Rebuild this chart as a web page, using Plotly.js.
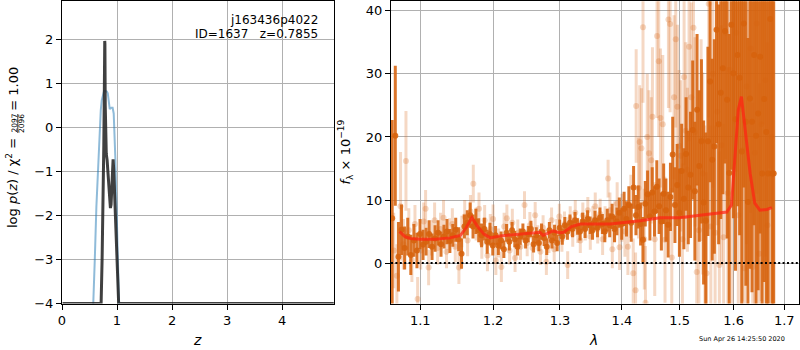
<!DOCTYPE html>
<html><head><meta charset="utf-8">
<script src="https://cdn.plot.ly/plotly-3.0.1.min.js"></script>
<style>html,body{margin:0;padding:0;background:#fff}#chart{width:800px;height:350px}</style>
</head><body><div id="chart"></div>
<script>
// ---------- left panel: log p(z) ----------
const zBlue = [0.560,0.566,0.596,0.625,0.650,0.670,0.687,0.705,0.723,0.745,0.765,0.790,0.815,0.832,0.850,0.868,0.895,0.920,0.940,0.955,0.970,0.985,1.001,1.020,1.038,1.045];
const logpBlue = [-4.3,-4.0,-3.0,-1.8,-1.0,-0.3,0.05,0.4,0.62,0.78,0.83,0.83,0.82,0.78,0.5,0.42,0.45,0.45,0.32,-0.1,-0.7,-1.5,-2.4,-3.2,-4.0,-4.4];
const zDark = [0.01,0.705,0.711,0.729,0.745,0.760,0.770,0.777,0.780,0.786,0.792,0.805,0.820,0.835,0.850,0.868,0.880,0.892,0.905,0.918,0.929,0.940,0.959,0.980,1.001,1.025,1.030,4.94];
const logpDark = [-4.0,-4.0,-4.0,-3.0,-2.0,-0.4,0.9,1.97,1.9,0.5,-0.45,-0.6,-0.74,-1.05,-1.35,-1.72,-1.83,-1.75,-1.3,-0.85,-0.72,-0.95,-1.65,-2.4,-3.16,-3.99,-4.0,-4.0];
const zTicks = [0,1,2,3,4];
const logpTicks = [-4,-3,-2,-1,0,1,2];

// ---------- right panel: spectrum ----------
const lamDark = [
1.0636,1.0676,1.0716,1.0756,1.0796,1.0836,1.0876,1.0916,1.0956,1.0996,
1.1036,1.1076,1.1116,1.1156,1.1196,1.1236,1.1276,1.1316,1.1356,1.1396,
1.1436,1.1476,1.1516,1.1556,1.1596,1.1636,1.1676,1.1716,1.1756,1.1796,
1.1836,1.1876,1.1916,1.1956,1.1996,1.2036,1.2076,1.2116,1.2156,1.2196,
1.2236,1.2276,1.2316,1.2356,1.2396,1.2436,1.2476,1.2516,1.2556,1.2596,
1.2636,1.2676,1.2716,1.2756,1.2796,1.2836,1.2876,1.2916,1.2956,1.2996,
1.3036,1.3076,1.3116,1.3156,1.3196,1.3236,1.3276,1.3316,1.3356,1.3396,
1.3436,1.3476,1.3516,1.3556,1.3596,1.3636,1.3676,1.3716,1.3756,1.3796,
1.3836,1.3876,1.3916,1.3956,1.3996,1.4036,1.4076,1.4116,1.4156,1.4196,
1.4236,1.4276,1.4316,1.4356,1.4396,1.4436,1.4476,1.4516,1.4556,1.4596,
1.4636,1.4676,1.4716,1.4756,1.4796,1.4836,1.4876,1.4916,1.4956,1.4996,
1.5036,1.5076,1.5116,1.5156,1.5196,1.5236,1.5276,1.5316,1.5356,1.5396,
1.5436,1.5476,1.5516,1.5556,1.5596,1.5636,1.5676,1.5716,1.5756,1.5796,
1.5836,1.5876,1.5916,1.5956,1.5996,1.6036,1.6076,1.6116,1.6156,1.6196,
1.6236,1.6276,1.6316,1.6356,1.6396,1.6436,1.6476,1.6516,1.6556,1.6596,
1.6636,1.6676,1.6716,1.6756,1.6786];
const fluxDark = [
7.1,20.2,1.0,5.3,2.4,4.2,1.3,3.6,2.0,4.6,
2.9,3.4,4.6,2.6,3.9,4.8,3.0,4.2,5.0,3.5,
4.4,5.3,3.8,1.5,5.8,6.4,7.6,5.8,6.6,5.2,
4.4,5.4,3.4,4.6,2.8,4.4,2.8,3.6,2.2,4.8,
3.4,5.2,3.8,2.6,4.2,5.0,3.6,4.6,5.4,3.0,
4.4,3.2,5.0,4.0,2.6,5.2,3.6,4.8,3.2,5.6,
4.2,6.0,5.0,6.4,5.4,6.8,5.8,5.0,6.6,5.4,
7.0,6.0,5.2,6.8,5.6,7.2,6.2,5.0,6.8,6.0,
7.4,5.4,6.6,8.0,6.2,8.6,7.0,9.2,6.4,12.0,
7.6,8.9,6.2,3.7,9.4,10.9,7.4,11.2,8.2,12.1,
9.0,6.6,11.0,8.4,6.1,10.5,17.2,9.2,12.4,8.0,
14.6,10.2,17.3,12.0,14.0,21.1,11.4,24.3,15.4,19.3,
9.6,6.7,19.3,28.8,16.4,18.5,37.0,22.0,27.0,30.9,
36.8,25.9,14.3,37.8,30.1,22.8,33.0,29.4,17.7,38.0,
22.4,9.7,26.1,22.4,33.0,20.2,23.7,32.7,14.2,26.0,
20.8,14.2,38.7,14.2,14.2];
const errDark = [
15.6,11.1,5.5,4.0,3.4,3.0,3.2,2.6,2.8,2.4,
2.4,2.2,2.2,2.1,2.1,2.0,2.0,1.9,2.0,1.9,
1.8,1.9,1.9,2.4,1.9,2.0,2.0,1.9,2.0,1.9,
1.9,1.8,1.9,1.8,1.6,1.5,1.5,1.4,1.4,1.4,
1.4,1.3,1.3,1.4,1.3,1.3,1.3,1.3,1.3,1.3,
1.3,1.3,1.3,1.3,1.3,1.3,1.3,1.3,1.3,1.3,
1.3,1.3,1.3,1.3,1.3,1.3,1.3,1.4,1.4,1.4,
1.4,1.4,1.5,1.5,1.5,1.6,1.6,1.7,1.8,1.9,
2.0,2.1,2.2,2.4,2.5,2.7,2.8,3.0,3.0,3.4,
3.2,3.4,3.4,3.6,3.6,3.8,3.8,4.0,4.0,4.2,
4.4,4.6,4.8,5.0,5.2,5.4,6.0,6.0,6.5,7.0,
7.5,8.0,9.0,9.0,10,11,11,12,12,13,
13,14,15,16,16,17,18,19,20,20,
21,22,22,23,23,24,24,25,25,26,
26,26,27,27,27,28,28,28,28,29,
29,29,30,30,30];

const lamLight = [
1.0656,1.0696,1.0743,1.0780,1.0813,1.0850,1.0890,1.0930,1.0965,1.1005,
1.1045,1.1070,1.1110,1.1150,1.1190,1.1230,1.1270,1.1310,1.1350,1.1390,
1.1430,1.1470,1.1520,1.1560,1.1600,1.1640,1.1680,1.1720,1.1760,1.1800,
1.1840,1.1880,1.1920,1.1960,1.2000,1.2040,1.2080,1.2120,1.2160,1.2200,
1.2240,1.2280,1.2320,1.2360,1.2400,1.2460,1.2500,1.2540,1.2580,1.2620,
1.2660,1.2700,1.2740,1.2790,1.2830,1.2870,1.2910,1.2950,1.2990,1.3030,
1.3070,1.3120,1.3160,1.3200,1.3240,1.3280,1.3320,1.3360,1.3400,1.3440,
1.3480,1.3520,1.3560,1.3600,1.3640,1.3680,1.3720,1.3770,1.3800,1.3840,
1.3880,1.3920,1.3960,1.4000,1.4050,1.4100,1.4150,1.4190,1.4230,1.4240,
1.4280,1.4300,1.4330,1.4357,1.4380,1.4400,1.4430,1.4460,1.4500,1.4520,
1.4560,1.4600,1.4630,1.4660,1.4700,1.4740,1.4800,1.4830,1.4860,1.4900,
1.4930,1.4960,1.4990,1.5020,1.5050,1.5080,1.5110,1.5140,1.5170,1.5210,
1.5250,1.5280,1.5310,1.5350,1.5390,1.5420,1.5460,1.5490,1.5530,1.5570,
1.5610,1.5650,1.5690,1.5730,1.5770,1.5810,1.5850,1.5890,1.5930,1.5970,
1.6010,1.6050,1.6090,1.6130,1.6170,1.6210,1.6250,1.6290,1.6330,1.6370,
1.6410,1.6450,1.6500,1.6540,1.6580,1.6620,1.6660,1.6700,1.6740];
const fluxLight = [
2.0,-2.0,9.0,3.0,16.2,5.2,0.5,6.2,-5.7,2.0,
6.6,8.6,-0.7,4.0,6.8,2.4,5.4,7.2,1.8,4.6,
6.2,2.6,-0.7,5.0,7.4,3.6,8.2,12.6,6.2,8.6,
3.2,6.8,1.2,5.4,7.0,0.4,3.2,-0.6,5.8,7.1,
2.0,6.4,0.8,4.8,2.6,9.2,3.2,6.0,2.4,7.6,
4.0,1.8,5.6,0.2,3.6,6.8,2.2,5.0,7.4,3.8,
6.2,-0.3,7.0,4.6,8.0,5.2,3.6,7.6,5.6,8.4,
4.2,6.8,9.0,5.4,7.8,3.8,6.4,13.4,8.4,2.2,
6.6,9.4,2.5,7.2,5.0,2.6,9.0,-1.6,-4.3,24.9,
11.9,19.2,18.2,37.4,3.8,-6.3,20.0,17.4,16.3,23.2,
3.8,36.0,32.0,23.0,22.0,3.7,38.6,37.9,0.9,26.3,
35.5,24.8,18.6,17.0,3.8,29.5,21.0,14.8,34.3,26.3,
37.3,20.8,-1.4,5.2,19.5,14.2,6.8,-1.6,41.1,5.8,
30.0,4.8,24.0,-0.3,18.7,4.1,36.5,11.1,30.6,9.3,
44.0,36.5,7.6,48.0,17.9,-0.8,28.0,46.0,34.0,-0.6,
17.5,38.0,1.5,22.0,50.0,29.0,6.0,44.0,20.0];
const errLight = [
6.0,5.0,8.6,4.0,7.9,3.5,3.5,3.0,3.5,3.0,
3.0,3.0,2.8,2.8,2.8,2.6,2.6,2.8,2.6,2.5,
2.5,2.5,2.6,2.5,2.6,2.5,2.6,3.0,2.6,2.6,
2.5,2.4,2.5,2.4,2.3,2.3,2.3,2.4,2.2,2.2,
2.2,2.2,2.2,2.1,2.1,2.2,2.1,2.1,2.1,2.1,
2.0,2.1,2.0,2.1,2.0,2.0,2.0,2.0,2.0,2.0,
2.0,2.2,2.0,2.0,2.0,2.0,2.0,2.0,2.0,2.1,
2.1,2.2,2.2,2.3,2.4,2.5,2.6,3.0,2.8,3.0,
3.2,3.4,3.6,3.8,4.0,4.5,5.0,5.5,6.0,9.0,
8.0,9.0,9.5,12,8.0,9.0,10,10,10,11,
9,13,12,11,11,10,14,14,11,13,
14,13,12,12,12,14,14,13,15,15,
16,15,14,14,16,16,15,16,18,16,
18,17,18,18,19,18,20,20,21,21,
22,22,22,24,24,24,25,26,26,26,
27,27,27,28,28,28,29,29,30];

const lamModel = [1.0730,1.0800,1.0870,1.1000,1.1200,1.1400,1.1540,1.1620,1.1700,1.1780,1.1870,1.1960,1.2100,1.2390,1.2550,1.2690,1.2740,1.2890,1.3000,1.3060,1.3180,1.3320,1.3560,1.3800,1.4000,1.4310,1.4650,1.5000,1.5370,1.5650,1.5870,1.5960,1.6010,1.6090,1.6150,1.6220,1.6320,1.6410,1.6510,1.6650,1.6750];
const fluxModel = [5.0,4.2,3.9,3.8,3.8,4.0,4.4,5.6,7.2,5.8,4.6,4.0,4.3,4.6,4.8,4.9,4.4,5.1,4.8,4.9,5.8,6.2,6.2,6.2,6.4,6.7,7.2,7.2,7.6,7.9,8.1,9.2,15.3,24.3,26.4,21.6,14.2,9.5,8.4,8.5,8.8];

const lamTicks = [1.1,1.2,1.3,1.4,1.5,1.6,1.7];
const lamTickText = ['1.1','1.2','1.3','1.4','1.5','1.6','1.7'];
const fluxTicks = [0,10,20,30,40];

// ---------- figure ----------
const W = 800, H = 350;
const px = x => x / W, py = y => 1 - y / H;
const FONT = 'DejaVu Sans, sans-serif';
const darkC = 'rgba(214,98,12,0.88)';
const lightC = 'rgba(217,100,20,0.25)';

const traces = [
  {x: zBlue, y: logpBlue, xaxis: 'x', yaxis: 'y', type: 'scatter', mode: 'lines',
   line: {color: 'rgba(31,119,180,0.5)', width: 2}, hoverinfo: 'skip'},
  {x: zDark, y: logpDark, xaxis: 'x', yaxis: 'y', type: 'scatter', mode: 'lines',
   line: {color: 'rgba(38,38,38,0.88)', width: 3}, hoverinfo: 'skip'},
  {x: lamLight, y: fluxLight, xaxis: 'x2', yaxis: 'y2', type: 'scatter', mode: 'markers',
   marker: {size: 6, color: lightC},
   error_y: {type: 'data', array: errLight, visible: true, thickness: 3, width: 0, color: lightC},
   hoverinfo: 'skip'},
  {x: lamDark, y: fluxDark, xaxis: 'x2', yaxis: 'y2', type: 'scatter', mode: 'markers',
   marker: {size: 6, color: darkC},
   error_y: {type: 'data', array: errDark, visible: true, thickness: 3, width: 0, color: darkC},
   hoverinfo: 'skip'},
  {x: lamModel, y: fluxModel, xaxis: 'x2', yaxis: 'y2', type: 'scatter', mode: 'lines',
   line: {color: 'rgba(255,35,20,0.72)', width: 3}, hoverinfo: 'skip'}
];

const axBase = {
  showline: true, linecolor: '#000', linewidth: 1, mirror: true,
  ticks: 'outside', ticklen: 5, tickwidth: 1, tickcolor: '#000',
  showgrid: true, gridcolor: '#b0b0b0', gridwidth: 1, zeroline: false,
  tickfont: {family: FONT, size: 13, color: '#000'}, fixedrange: true
};
const yDom = [py(303.5), py(1.3)];

const layout = {
  width: W, height: H, margin: {l: 0, r: 0, t: 0, b: 0},
  paper_bgcolor: '#fff', plot_bgcolor: '#fff', showlegend: false,
  font: {family: FONT, size: 13, color: '#000'},
  xaxis: Object.assign({}, axBase, {domain: [px(62), px(334.3)], range: [0, 4.95],
    tickvals: zTicks, anchor: 'y'}),
  yaxis: Object.assign({}, axBase, {domain: yDom, range: [-4, 2.87],
    tickvals: logpTicks, anchor: 'x'}),
  xaxis2: Object.assign({}, axBase, {type: 'log', domain: [px(391), px(799)],
    range: [0.026175, 0.238084], tickvals: lamTicks, ticktext: lamTickText, anchor: 'y2'}),
  yaxis2: Object.assign({}, axBase, {domain: yDom, range: [-6.4, 41.5],
    tickvals: fluxTicks, anchor: 'x2'}),
  shapes: [
    {type: 'line', xref: 'x2 domain', yref: 'y2', x0: 0, x1: 1, y0: 0, y1: 0,
     line: {color: '#000', width: 2, dash: '2px,2.4px'}, layer: 'above'},
    {type: 'line', xref: 'paper', yref: 'paper', x0: px(17.8), x1: px(17.8), y0: py(133), y1: py(114),
     line: {color: '#000', width: 0.8}}
  ],
  annotations: [
    {text: 'j163436p4022', xref: 'paper', yref: 'paper', x: px(319.5), y: py(20),
     xanchor: 'right', yanchor: 'middle', showarrow: false, font: {family: FONT, size: 12, color: '#000'}},
    {text: 'ID=1637   z=0.7855', xref: 'paper', yref: 'paper', x: px(319.5), y: py(34.5),
     xanchor: 'right', yanchor: 'middle', showarrow: false, font: {family: FONT, size: 12, color: '#000'}},
    {text: '<i>z</i>', xref: 'paper', yref: 'paper', x: px(197), y: py(340),
     xanchor: 'center', yanchor: 'middle', showarrow: false, font: {family: FONT, size: 14, color: '#000'}},
    {text: '<i>λ</i>', xref: 'paper', yref: 'paper', x: px(593), y: py(340),
     xanchor: 'center', yanchor: 'middle', showarrow: false, font: {family: FONT, size: 14, color: '#000'}},
    {text: 'log <i>p</i>(<i>z</i>) / χ<sup>2</sup> =', xref: 'paper', yref: 'paper', x: px(12.5), y: py(183.5),
     xanchor: 'center', yanchor: 'middle', textangle: -90, showarrow: false, font: {family: FONT, size: 13, color: '#000'}},
    {text: '2097', xref: 'paper', yref: 'paper', x: px(14.0), y: py(123.5),
     xanchor: 'center', yanchor: 'middle', textangle: -90, showarrow: false, font: {family: FONT, size: 7.5, color: '#000'}},
    {text: '2096', xref: 'paper', yref: 'paper', x: px(21.6), y: py(123.5),
     xanchor: 'center', yanchor: 'middle', textangle: -90, showarrow: false, font: {family: FONT, size: 7.5, color: '#000'}},
    {text: '= 1.00', xref: 'paper', yref: 'paper', x: px(13.3), y: py(88.5),
     xanchor: 'center', yanchor: 'middle', textangle: -90, showarrow: false, font: {family: FONT, size: 13, color: '#000'}},
    {text: '<i>f</i><sub>λ</sub> × 10<sup>−19</sup>', xref: 'paper', yref: 'paper', x: px(345), y: py(152.5),
     xanchor: 'center', yanchor: 'middle', textangle: -90, showarrow: false, font: {family: FONT, size: 13, color: '#000'}},
    {text: 'Sun Apr 26 14:25:50 2020', xref: 'paper', yref: 'paper', x: px(742), y: py(339),
     xanchor: 'center', yanchor: 'middle', showarrow: false, font: {family: FONT, size: 6.5, color: '#000'}}
  ]
};

Plotly.newPlot('chart', traces, layout, {staticPlot: true, displayModeBar: false});
</script>
</body></html>
